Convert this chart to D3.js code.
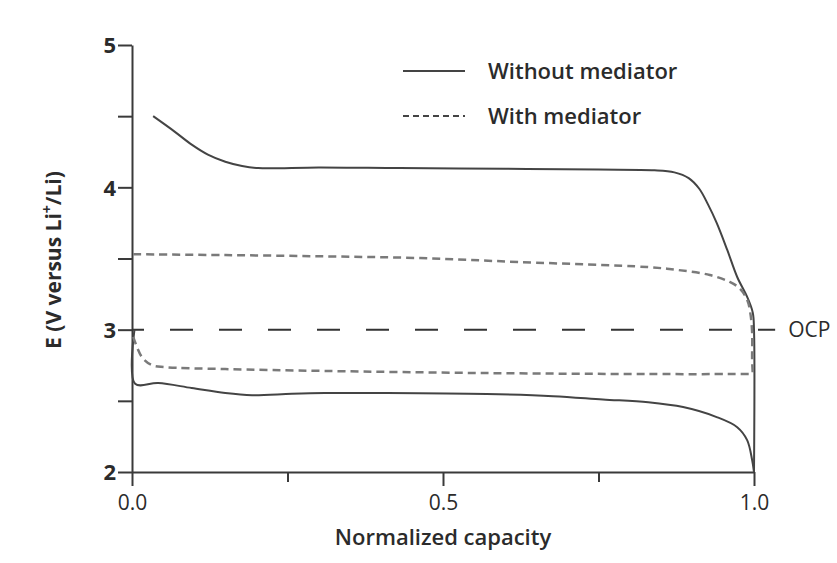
<!DOCTYPE html>
<html lang="en">
<head>
<meta charset="UTF-8">
<title>E versus normalized capacity</title>
<script src="https://d3js.org/d3.v7.min.js"></script>
<style>
body { margin: 0; background: #fff; }
svg { display: block; font-family: "Open Sans", Lato, sans-serif; }
.axis path, .axis line { stroke: #3a3a3a; stroke-width: 2; }
.axis text { fill: #2b2b2b; font-size: 21px; font-family: "Open Sans", sans-serif; }
</style>
</head>
<body>
<svg width="837" height="563"></svg>
<script>
// [normalized capacity, E (V vs Li+/Li)]
const chargeNoMed = [
  [0.034, 4.50], [0.069, 4.39], [0.096, 4.30], [0.122, 4.23], [0.15, 4.18],
  [0.177, 4.15], [0.203, 4.135], [0.30, 4.14], [0.43, 4.135], [0.60, 4.13],
  [0.75, 4.125], [0.84, 4.12], [0.872, 4.105], [0.895, 4.065], [0.912, 3.99],
  [0.926, 3.88], [0.94, 3.75], [0.957, 3.56], [0.973, 3.37], [0.989, 3.23],
  [0.998, 3.12], [1.0, 3.0], [1.0, 2.0]
];
const dischargeNoMed = [
  [0.004, 3.0], [0.005, 2.62], [0.042, 2.625], [0.096, 2.59], [0.15, 2.555],
  [0.193, 2.54], [0.257, 2.55], [0.31, 2.555], [0.41, 2.555], [0.57, 2.548],
  [0.677, 2.533], [0.757, 2.51], [0.83, 2.49], [0.886, 2.456], [0.94, 2.386],
  [0.973, 2.315], [0.989, 2.224], [0.997, 2.084], [1.0, 2.0]
];
const chargeMed = [
  [0.002, 3.53], [0.15, 3.524], [0.31, 3.515], [0.463, 3.503], [0.624, 3.475],
  [0.828, 3.44], [0.876, 3.42], [0.929, 3.384], [0.961, 3.335], [0.977, 3.29],
  [0.989, 3.21], [0.994, 3.12], [0.997, 2.98], [0.997, 2.79], [0.998, 2.69]
];
const dischargeMed = [
  [0.002, 2.95], [0.016, 2.807], [0.032, 2.751], [0.053, 2.737], [0.15, 2.723],
  [0.31, 2.71], [0.57, 2.695], [0.828, 2.688], [0.998, 2.688]
];
const ocp = 3.0;
const ocpEnd = 1.034;

const xMajor = [0, 0.5, 1];
const xMinor = [0.25, 0.75];
const yTicks = [2, 2.5, 3, 3.5, 4, 4.5, 5];
const legendItems = ["Without mediator", "With mediator"];

const svg = d3.select("svg");
const margin = { top: 45, left: 132 };
const width = 622, height = 427;

const x = d3.scaleLinear().domain([0, 1]).range([0, width]);
const y = d3.scaleLinear().domain([2, 5]).range([height, 0]);

const g = svg.append("g").attr("transform", `translate(${margin.left},${margin.top})`);

// axes
g.append("g").attr("class", "axis")
  .attr("transform", `translate(0,${height})`)
  .call(d3.axisBottom(x).tickValues(xMajor).tickSize(14).tickPadding(9)
    .tickSizeOuter(0).tickFormat(d3.format(".1f")));

g.append("g").attr("class", "axis")
  .attr("transform", `translate(0,${height})`)
  .call(d3.axisBottom(x).tickValues(xMinor).tickSize(10).tickFormat(""))
  .select(".domain").remove();

g.append("g").attr("class", "axis")
  .call(d3.axisLeft(y).tickValues(yTicks).tickSize(14).tickPadding(2)
    .tickSizeOuter(0)
    .tickFormat(d => Number.isInteger(d) ? d : ""))
  .selectAll("text").attr("font-weight", 700).style("font-size", "22px")
  .attr("dy", "0.36em");

// OCP reference line
g.append("line")
  .attr("x1", x(0)).attr("x2", x(ocpEnd))
  .attr("y1", y(ocp)).attr("y2", y(ocp))
  .attr("stroke", "#333").attr("stroke-width", 2)
  .attr("stroke-dasharray", "23,26").attr("stroke-dashoffset", 11);

g.append("text")
  .attr("x", x(ocpEnd) + 13).attr("y", y(ocp)).attr("dy", "0.36em")
  .attr("fill", "#2b2b2b").attr("font-size", 21).text("OCP");

// curves
const line = d3.line()
  .x(d => x(d[0])).y(d => y(d[1]))
  .curve(d3.curveCatmullRom.alpha(0.5));

[chargeNoMed, dischargeNoMed].forEach(d => {
  g.append("path").datum(d).attr("d", line)
    .attr("fill", "none").attr("stroke", "#444").attr("stroke-width", 2);
});
[chargeMed, dischargeMed].forEach(d => {
  g.append("path").datum(d).attr("d", line)
    .attr("fill", "none").attr("stroke", "#7a7a7a").attr("stroke-width", 2.5)
    .attr("stroke-dasharray", "8,5");
});

// legend
const legend = g.append("g").attr("transform", `translate(${403 - margin.left},${71 - margin.top})`);
legendItems.forEach((name, i) => {
  const row = legend.append("g").attr("transform", `translate(0,${i * 45})`);
  row.append("line").attr("x1", 0).attr("x2", 62)
    .attr("stroke", "#444").attr("stroke-width", 2)
    .attr("stroke-dasharray", i === 1 ? "6,4" : null);
  row.append("text").attr("x", 85).attr("dy", "0.36em")
    .attr("fill", "#2b2b2b").attr("font-size", 22).attr("font-weight", 600)
    .text(name);
});

// axis titles
svg.append("text")
  .attr("x", margin.left + x(0.5)).attr("y", 545)
  .attr("text-anchor", "middle").attr("fill", "#2b2b2b").attr("font-size", 22)
  .attr("font-weight", 600)
  .text("Normalized capacity");

const yTitle = svg.append("text")
  .attr("transform", "translate(61,260) rotate(-90)")
  .attr("text-anchor", "middle").attr("fill", "#2b2b2b").attr("font-size", 21)
  .attr("font-weight", 700);
yTitle.append("tspan").text("E (V versus Li");
yTitle.append("tspan").attr("dy", -9).attr("font-size", 14).text("+");
yTitle.append("tspan").attr("dy", 9).text("/Li)");
</script>
</body>
</html>
